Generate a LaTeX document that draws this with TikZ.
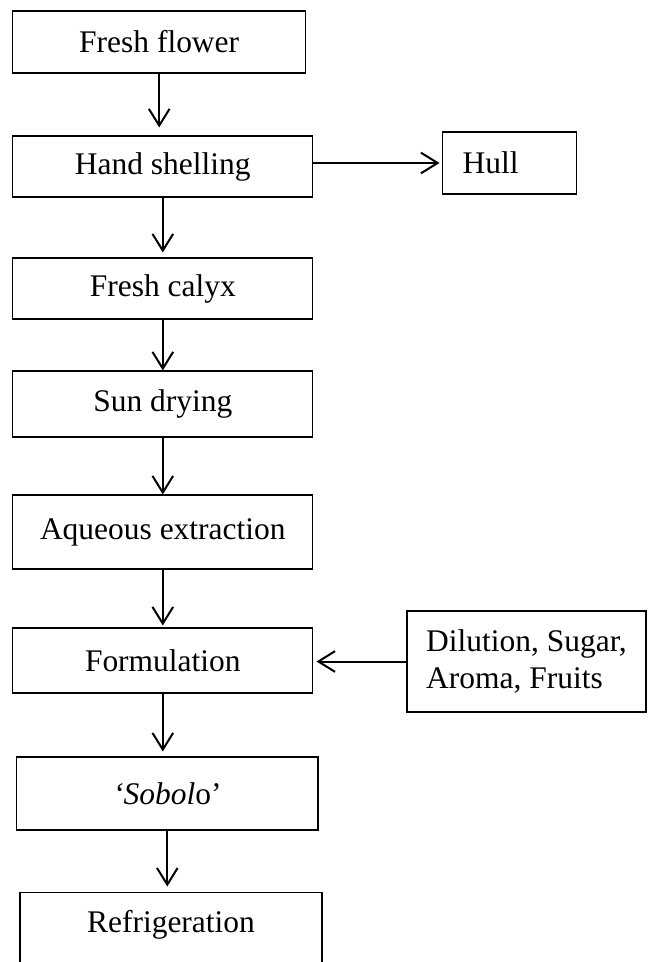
\documentclass[tikz,border=0pt]{standalone}
\usepackage{fontspec}
\setmainfont{Liberation Serif}
\usetikzlibrary{arrows.meta}

\tikzset{
    stage/.style={draw, line width=0.8pt, inner sep=0pt, font=\fontsize{23.6}{27.5}\selectfont},
    flow/.style={-{Straight Barb[length=12.5pt,width=15.5pt]}, line width=1.5pt}
}

\begin{document}
\begin{tikzpicture}[x=0.75pt, y=-0.75pt]
    \useasboundingbox (0,0) rectangle (647,962);
    \node[stage, minimum width=219.75pt, minimum height=46.5pt] (flower) at (159.2,42) {Fresh flower};
    \node[stage, minimum width=225.2pt, minimum height=45.75pt] (shelling) at (162.8,166.5) {Hand shelling};
    \node[stage, text width=70.5pt, inner xsep=15pt, minimum height=46.5pt, align=left] (hull) at (509.7,163) {Hull};
    \node[stage, minimum width=225.2pt, minimum height=45.75pt] (calyx) at (162.8,288.5) {Fresh calyx};
    \node[stage, minimum width=225.2pt, minimum height=49.5pt] (drying) at (162.8,404) {Sun drying};
    \node[stage, minimum width=225.2pt, minimum height=55.5pt] (extraction) at (162.8,532) {Aqueous extraction};
    \node[stage, minimum width=225.2pt, minimum height=48.75pt] (formulation) at (162.8,660.5) {Formulation};
    \node[stage, align=left, inner xsep=12.75pt, minimum width=179.25pt, minimum height=75.75pt] (additives) at (526.5,661.5) {Dilution, Sugar,\\Aroma, Fruits};
    \node[stage, minimum width=226pt, minimum height=54.75pt] (sobolo) at (167.3,793.5) {\textit{‘Sobol}o’};
    \node[stage, minimum width=226.5pt, text height=30.5pt, text depth=45pt, anchor=base] (fridge) at (171,932.7) {Refrigeration};

    \draw[flow, shorten >=6pt] (flower) -- (flower |- shelling.north);
    \draw[flow, shorten >=3.75pt] (shelling) -- (shelling |- calyx.north);
    \draw[flow] (calyx) -- (calyx |- drying.north);
    \draw[flow] (drying) -- (drying |- extraction.north);
    \draw[flow, shorten >=1.5pt] (extraction) -- (extraction |- formulation.north);
    \draw[flow, shorten >=3.75pt] (formulation) -- (formulation |- sobolo.north);
    \draw[flow, shorten >=3.75pt] (sobolo) -- (sobolo |- fridge.north);
    \draw[flow, shorten >=2pt] (shelling.east |- hull.west) -- (hull.west);
    \draw[flow, shorten >=2.25pt] (additives.west) -- (additives.west -| formulation.east);
\end{tikzpicture}
\end{document}
